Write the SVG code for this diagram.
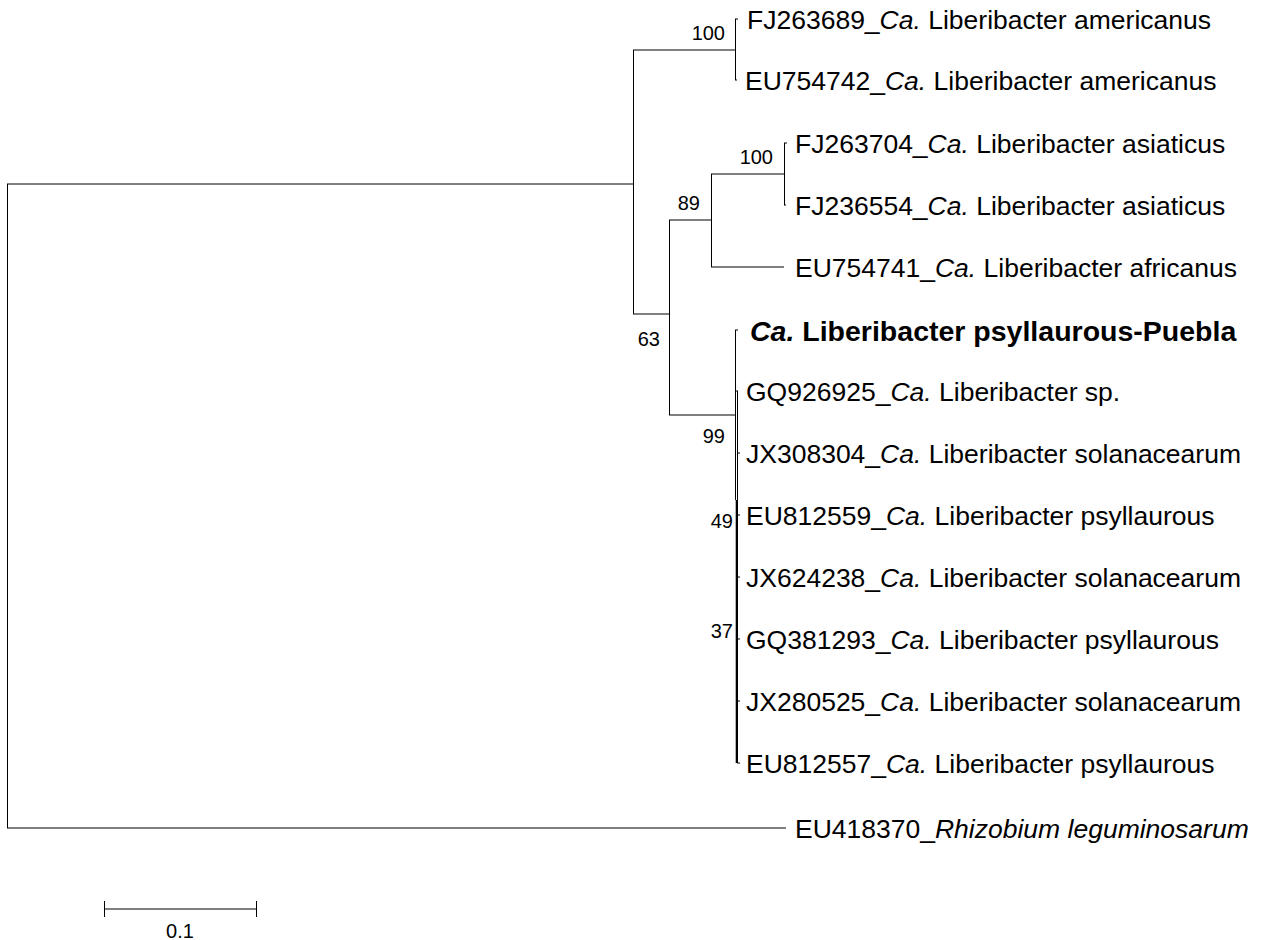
<svg xmlns="http://www.w3.org/2000/svg" width="1263" height="940" viewBox="0 0 1263 940">
<style>
.br{stroke:#000;stroke-width:1;fill:none}
.tip{font-family:"Liberation Sans",Arial,sans-serif;font-size:26.5px;fill:#000}
.bold{font-weight:bold;font-size:28.5px}
.it{font-style:italic}
.bs{font-family:"Liberation Sans",Arial,sans-serif;font-size:20px;fill:#000;text-anchor:end}
</style>
<rect width="1263" height="940" fill="#fff"/>
<g id="connectors">
<path class="br" d="M7.5 184V828M7 184H633M7 828H786"/>
<path class="br" d="M633.5 50V314M633 50H735M735.5 19V80M735 19H738M735 80H737"/>
<path class="br" d="M633 314H669M669.5 220V415M669 220H711M711.5 174V267M711 174H784M784.5 143V205M784 143H787M784 205H786M711 267H784"/>
<path class="br" d="M669 415H735M735.5 330V500M735 330H738M737.5 391V763"/>
<path class="br" style="stroke-width:1.6" d="M736.5 500V763"/>
<path class="br" d="M735 391H738M737 453H740M737 515H740M737 577H740M737 639H740M737 701H740M737 763H740"/>
</g>
<g id="bootstrap">
<text class="bs" x="725" y="40">100</text>
<text class="bs" x="773" y="164">100</text>
<text class="bs" x="700" y="210">89</text>
<text class="bs" x="660" y="346">63</text>
<text class="bs" x="725" y="443">99</text>
<text class="bs" x="733" y="528">49</text>
<text class="bs" x="733" y="638">37</text>
</g>
<g id="n1"><text class="tip" x="747" y="28.5">FJ263689_<tspan class="it">Ca.</tspan> Liberibacter americanus</text></g>
<g id="n2"><text class="tip" x="745" y="89.5">EU754742_<tspan class="it">Ca.</tspan> Liberibacter americanus</text></g>
<g id="n3"><text class="tip" x="795" y="152.5">FJ263704_<tspan class="it">Ca.</tspan> Liberibacter asiaticus</text></g>
<g id="n4"><text class="tip" x="795" y="214.5">FJ236554_<tspan class="it">Ca.</tspan> Liberibacter asiaticus</text></g>
<g id="n5"><text class="tip" x="795" y="276.5">EU754741_<tspan class="it">Ca.</tspan> Liberibacter africanus</text></g>
<g id="n6"><text class="tip bold" x="750" y="340.5"><tspan class="it">Ca.</tspan> Liberibacter psyllaurous-Puebla</text></g>
<g id="n7"><text class="tip" x="746" y="400.5">GQ926925_<tspan class="it">Ca.</tspan> Liberibacter sp.</text></g>
<g id="n8"><text class="tip" x="746" y="462.5">JX308304_<tspan class="it">Ca.</tspan> Liberibacter solanacearum</text></g>
<g id="n9"><text class="tip" x="746" y="524.5">EU812559_<tspan class="it">Ca.</tspan> Liberibacter psyllaurous</text></g>
<g id="n10"><text class="tip" x="746" y="586.5">JX624238_<tspan class="it">Ca.</tspan> Liberibacter solanacearum</text></g>
<g id="n11"><text class="tip" x="746" y="648.5">GQ381293_<tspan class="it">Ca.</tspan> Liberibacter psyllaurous</text></g>
<g id="n12"><text class="tip" x="746" y="710.5">JX280525_<tspan class="it">Ca.</tspan> Liberibacter solanacearum</text></g>
<g id="n13"><text class="tip" x="746" y="772.5">EU812557_<tspan class="it">Ca.</tspan> Liberibacter psyllaurous</text></g>
<g id="n14"><text class="tip" x="795" y="837.5">EU418370_<tspan class="it">Rhizobium leguminosarum</tspan></text></g>
<g id="scalebar">
<path class="br" d="M104 909H257M104.5 901V917M256.5 901V917"/>
<text x="180" y="938" style="font-family:'Liberation Sans',Arial,sans-serif;font-size:20px;text-anchor:middle">0.1</text>
</g>
</svg>
